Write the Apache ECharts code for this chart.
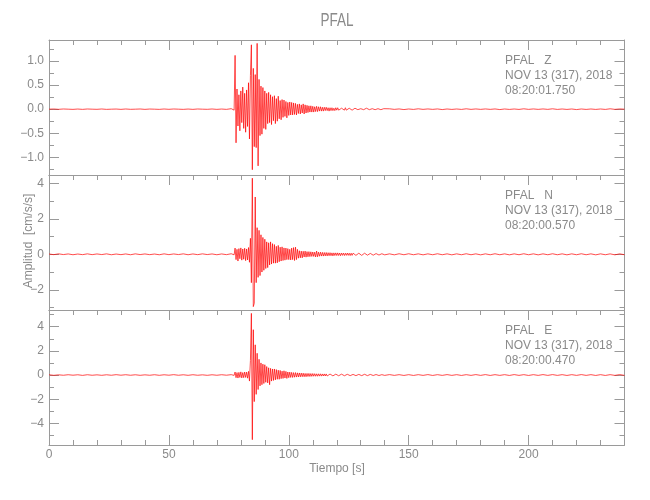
<!DOCTYPE html>
<html><head><meta charset="utf-8">
<script src="https://cdn.jsdelivr.net/npm/echarts@6/dist/echarts.min.js"></script>
<style>html,body{margin:0;padding:0;background:#fff}#c{width:650px;height:500px}</style>
</head><body><div id="c"></div>
<script>
// ---------- texts ----------
const chartTitle = 'PFAL';
const xTitle = 'Tiempo [s]';
const yTitle = 'Amplitud  [cm/s/s]';
const zInfo = ['PFAL   Z', 'NOV 13 (317), 2018', '08:20:01.750'];
const nInfo = ['PFAL   N', 'NOV 13 (317), 2018', '08:20:00.570'];
const eInfo = ['PFAL   E', 'NOV 13 (317), 2018', '08:20:00.470'];

// ---------- axes ----------
const xRange = [0, 240];
const xTicks = [0, 50, 100, 150, 200];
const xMinorTicks = [0,10,20,30,40,50,60,70,80,90,100,110,120,130,140,150,160,170,180,190,200,210,220,230];
const zRange = [-1.37, 1.44];
const zTicks = [-1.0, -0.5, 0.0, 0.5, 1.0];
const zMinorTicks = [-1.25, -1.0, -0.75, -0.5, -0.25, 0, 0.25, 0.5, 0.75, 1.0, 1.25];
const nRange = [-3.14, 4.47];
const nTicks = [-2, 0, 2, 4];
const nMinorTicks = [-3, -2, -1, 0, 1, 2, 3, 4];
const eRange = [-5.79, 5.38];
const eTicks = [-4, -2, 0, 2, 4];
const eMinorTicks = [-5, -4, -3, -2, -1, 0, 1, 2, 3, 4, 5];

// ---------- traces ----------
// pre-event: t = 0..74 s every 2 s
const zPre = [0.000,0.004,-0.003,0.004,0.000,-0.004,0.003,-0.004,0.004,0.000,
  -0.003,0.004,-0.004,0.000,0.003,-0.004,0.004,-0.003,0.000,0.004,
  -0.004,0.003,0.000,-0.004,0.004,-0.003,0.004,0.000,-0.004,0.003,
  -0.004,0.004,0.000,-0.003,0.004,-0.004,0.003,-0.004];
const nPre = [0.015,-0.020,0.025,-0.015,0.020,-0.025,0.015,-0.020,0.025,-0.020,
  0.020,-0.015,0.025,-0.025,0.015,-0.020,0.020,-0.025,0.025,-0.015,
  0.020,-0.020,0.015,-0.025,0.025,-0.020,0.020,-0.015,0.025,-0.025,
  0.020,-0.020,0.025,-0.015,0.020,-0.025,0.020,-0.020];
const ePre = [0.020,-0.025,0.015,-0.020,0.025,-0.015,0.020,-0.030,0.025,-0.020,
  0.015,-0.025,0.020,-0.020,0.030,-0.015,0.025,-0.020,0.020,-0.025,
  0.015,-0.020,0.025,-0.025,0.020,-0.015,0.030,-0.020,0.020,-0.025,
  0.025,-0.020,0.015,-0.025,0.020,-0.020,0.025,-0.015];
// main event: t = 76.0 .. 139.6 s every 0.4 s
const zMain = [0.01,-0.02,0.02,-0.02,1.12,-0.70,0.42,-0.35,0.30,-0.45,
  0.38,-0.28,0.46,-0.40,0.33,-0.48,0.40,-0.36,0.55,-0.62,
  0.70,1.34,-1.26,0.85,-0.78,0.72,-0.80,1.37,-1.18,0.62,
  -0.55,0.48,-0.52,0.45,-0.40,0.38,-0.42,0.33,-0.30,0.35,
  -0.28,0.30,-0.32,0.26,-0.24,0.28,-0.30,0.22,-0.25,0.27,
  -0.20,0.18,-0.22,0.20,-0.17,0.19,-0.15,0.16,-0.18,0.14,
  -0.13,0.15,-0.12,0.14,-0.12,0.13,-0.11,0.12,-0.12,0.10,
  -0.09,0.11,-0.10,0.09,-0.08,0.11,-0.10,0.09,-0.08,0.08,
  -0.07,0.07,-0.06,0.07,-0.06,0.06,-0.06,0.05,-0.05,0.06,
  -0.05,0.05,-0.04,0.05,-0.04,0.04,-0.04,0.04,-0.03,0.04,
  -0.03,0.03,-0.04,0.03,-0.03,0.03,-0.03,0.02,-0.03,0.03,
  -0.02,0.03,-0.02,0.02,-0.03,0.02,-0.02,0.02,-0.02,0.03,
  -0.02,0.02,-0.02,0.02,-0.02,0.02,-0.02,0.02,-0.01,0.02,
  -0.02,0.02,-0.01,0.02,-0.02,0.01,-0.02,0.02,-0.01,0.02,
  -0.01,0.02,-0.02,0.01,-0.01,0.02,-0.01,0.01,-0.02,0.01,
  -0.01,0.01,-0.01,0.01,-0.01,0.01,-0.01,0.01,-0.01,0.01];
const nMain = [0.03,-0.04,0.05,-0.03,0.35,-0.30,0.28,-0.38,0.32,-0.25,
  0.36,-0.33,0.30,-0.28,0.34,-0.36,0.30,-0.32,0.38,-0.45,
  0.90,-1.60,4.29,-2.95,-2.76,3.23,-1.60,1.50,-1.30,1.35,
  -1.20,1.10,-1.00,0.95,-0.90,0.85,-0.80,0.70,-0.75,0.65,
  -0.60,0.70,-0.55,0.60,-0.50,0.55,-0.50,0.45,-0.48,0.50,
  -0.42,0.40,-0.38,0.42,-0.35,0.36,-0.33,0.35,-0.30,0.32,
  -0.30,0.28,-0.32,0.35,-0.30,0.38,-0.35,0.40,-0.30,0.28,
  -0.22,0.20,-0.20,0.18,-0.20,0.17,-0.15,0.18,-0.16,0.15,
  -0.14,0.15,-0.13,0.14,-0.12,0.13,-0.12,0.12,-0.15,0.18,
  -0.14,0.12,-0.11,0.12,-0.10,0.11,-0.10,0.10,-0.09,0.10,
  -0.09,0.09,-0.08,0.09,-0.08,0.08,-0.09,0.08,-0.07,0.08,
  -0.07,0.08,-0.07,0.07,-0.08,0.07,-0.06,0.07,-0.07,0.06,
  -0.06,0.07,-0.06,0.06,-0.07,0.06,-0.06,0.06,-0.05,0.06,
  -0.06,0.05,-0.06,0.06,-0.05,0.05,-0.06,0.05,-0.05,0.06,
  -0.05,0.05,-0.05,0.06,-0.05,0.05,-0.04,0.05,-0.05,0.05,
  -0.05,0.04,-0.05,0.05,-0.04,0.04,-0.04,0.03,-0.04,0.03];
const eMain = [0.03,-0.03,0.04,-0.03,0.25,-0.22,0.20,-0.25,0.22,-0.20,
  0.26,-0.24,0.20,-0.22,0.25,-0.20,0.24,-0.26,0.30,-0.50,
  1.20,5.10,-5.35,3.75,-2.20,2.50,-1.60,1.80,-1.20,1.30,
  -0.90,1.00,-0.80,0.90,-0.70,0.85,-0.60,0.70,-0.65,0.60,
  -0.80,0.55,-0.50,0.50,-0.45,0.50,-0.40,0.45,-0.35,0.40,
  -0.35,0.38,-0.30,0.32,-0.28,0.35,-0.25,0.30,-0.28,0.25,
  -0.22,0.24,-0.20,0.22,-0.20,0.20,-0.18,0.20,-0.17,0.18,
  -0.16,0.17,-0.15,0.16,-0.14,0.15,-0.14,0.13,-0.14,0.13,
  -0.12,0.13,-0.12,0.12,-0.11,0.12,-0.10,0.11,-0.10,0.10,
  -0.10,0.10,-0.09,0.10,-0.09,0.09,-0.08,0.09,-0.08,0.09,
  -0.08,0.08,-0.07,0.08,-0.07,0.08,-0.07,0.07,-0.07,0.07,
  -0.07,0.07,-0.06,0.07,-0.06,0.07,-0.06,0.06,-0.06,0.07,
  -0.06,0.06,-0.06,0.06,-0.05,0.06,-0.06,0.05,-0.06,0.06,
  -0.05,0.06,-0.05,0.05,-0.06,0.05,-0.05,0.05,-0.05,0.06,
  -0.05,0.05,-0.05,0.05,-0.04,0.05,-0.05,0.05,-0.04,0.05,
  -0.05,0.04,-0.04,0.04,-0.04,0.04,-0.04,0.03,-0.04,0.03];
// coda: t = 140..240 s every 2 s
const zTail = [-0.005,0.008,-0.004,0.005,-0.008,0.004,-0.005,0.008,-0.004,0.005,
  -0.004,0.005,-0.008,0.004,-0.005,0.004,-0.005,0.008,-0.004,0.005,
  -0.004,0.005,-0.004,0.005,-0.008,0.004,-0.005,0.004,-0.005,0.008,
  -0.004,0.005,-0.004,0.005,-0.004,0.008,-0.005,0.004,-0.005,0.004,
  -0.008,0.004,-0.005,0.004,-0.005,0.004,-0.005,0.008,-0.004,0.005,0.000];
const nTail = [-0.030,0.025,-0.030,0.030,-0.025,0.030,-0.025,0.025,-0.030,0.025,
  -0.025,0.030,-0.025,0.025,-0.030,0.025,-0.025,0.030,-0.025,0.025,
  -0.030,0.025,-0.025,0.030,-0.025,0.025,-0.030,0.025,-0.025,0.030,
  -0.025,0.025,-0.030,0.025,-0.025,0.030,-0.025,0.025,-0.030,0.025,
  -0.025,0.030,-0.025,0.025,-0.030,0.025,-0.025,0.025,-0.030,0.025,-0.025];
const eTail = [-0.030,0.035,-0.030,0.030,-0.035,0.030,-0.035,0.030,-0.030,0.035,
  -0.035,0.030,-0.030,0.035,-0.030,0.030,-0.035,0.030,-0.030,0.035,
  -0.030,0.035,-0.035,0.030,-0.030,0.030,-0.035,0.035,-0.030,0.030,
  -0.035,0.030,-0.030,0.035,-0.030,0.035,-0.030,0.030,-0.035,0.030,
  -0.030,0.035,-0.030,0.030,-0.035,0.030,-0.035,0.030,-0.030,0.035,-0.030];
const segPre = {t0: 0, dt: 2};
const segMain = {t0: 76, dt: 0.4};
const segTail = {t0: 140, dt: 2};

// ---------- build ----------
function trace(pre, main, tail) {
  const out = [];
  [[segPre, pre], [segMain, main], [segTail, tail]].forEach(([s, arr]) => {
    arr.forEach((v, i) => out.push([+(s.t0 + i * s.dt).toFixed(2), v]));
  });
  return out;
}
const AX = '#9a9a9a', TX = '#8a8a8a', FONT = 'Liberation Sans, Arial, sans-serif';
const gridTops = [40, 175, 310], gridH = 135, gridL = 49, gridR = 25.5;
const panels = [
  {range: zRange, ticks: zTicks, minor: zMinorTicks, fmt: v => v.toFixed(1), data: trace(zPre, zMain, zTail), info: zInfo},
  {range: nRange, ticks: nTicks, minor: nMinorTicks, fmt: v => String(v), data: trace(nPre, nMain, nTail), info: nInfo},
  {range: eRange, ticks: eTicks, minor: eMinorTicks, fmt: v => String(v), data: trace(ePre, eMain, eTail), info: eInfo}
];
const grid = [], xAxis = [], yAxis = [], series = [], graphic = [];
const lineOn = {show: true, onZero: false, lineStyle: {color: AX, width: 1}};
const lineOff = {show: false, onZero: false};
function xa(p, pos, line, tickVals, len, labels) {
  xAxis.push({
    gridIndex: p, type: 'value', min: xRange[0], max: xRange[1], position: pos,
    axisLine: line ? lineOn : lineOff,
    axisTick: tickVals ? {show: true, inside: true, length: len, customValues: tickVals, lineStyle: {color: AX}} : {show: false},
    axisLabel: labels ? {show: true, customValues: xTicks, color: TX, fontSize: 12, fontFamily: FONT, margin: 4} : {show: false},
    splitLine: {show: false}
  });
  return xAxis.length - 1;
}
function ya(p, pos, line, tickVals, len, labels) {
  const P = panels[p];
  yAxis.push({
    gridIndex: p, type: 'value', min: P.range[0], max: P.range[1], position: pos,
    axisLine: line ? lineOn : lineOff,
    axisTick: {show: true, inside: true, length: len, customValues: tickVals, lineStyle: {color: AX}},
    axisLabel: labels ? {show: true, customValues: P.ticks, color: TX, fontSize: 12, fontFamily: FONT, margin: 5,
      formatter: v => P.fmt(v).replace('-', '\u2212')} : {show: false},
    splitLine: {show: false}
  });
  return yAxis.length - 1;
}
panels.forEach((P, p) => {
  grid.push({left: gridL, right: gridR, top: gridTops[p], height: gridH});
  const last = p === panels.length - 1;
  const xi = xa(p, 'bottom', true, last ? xTicks : null, 10, last);
  if (last) xa(p, 'bottom', false, xMinorTicks, 5, false);
  xa(p, 'top', true, xTicks, 10, false);
  xa(p, 'top', false, xMinorTicks, 5, false);
  const yi = ya(p, 'left', true, P.ticks, 10, true);
  ya(p, 'left', false, P.minor, 5, false);
  ya(p, 'right', true, P.ticks, 10, false);
  ya(p, 'right', false, P.minor, 5, false);
  series.push({
    type: 'line', xAxisIndex: xi, yAxisIndex: yi, data: P.data,
    showSymbol: false, symbol: 'none', silent: true,
    lineStyle: {color: '#ff0000', width: 0.7}
  });
  P.info.forEach((t, k) => graphic.push({
    type: 'text', x: 505, y: gridTops[p] + 21 + k * 15,
    style: {text: t, fill: TX, fontSize: 12, fontFamily: FONT, align: 'left', verticalAlign: 'middle'}
  }));
});
graphic.push({type: 'text', x: 337, y: 21, scaleX: 0.75,
  style: {text: chartTitle, fill: TX, fontSize: 18, fontFamily: FONT, align: 'center', verticalAlign: 'middle'}});
graphic.push({type: 'text', x: 337, y: 469,
  style: {text: xTitle, fill: TX, fontSize: 12, fontFamily: FONT, align: 'center', verticalAlign: 'middle'}});
graphic.push({type: 'text', x: 29, y: 241, rotation: Math.PI / 2,
  style: {text: yTitle, fill: TX, fontSize: 12, fontFamily: FONT, align: 'center', verticalAlign: 'middle'}});

const chart = echarts.init(document.getElementById('c'));
chart.setOption({animation: false, backgroundColor: '#fff', grid, xAxis, yAxis, series, graphic});
</script>
</body></html>
